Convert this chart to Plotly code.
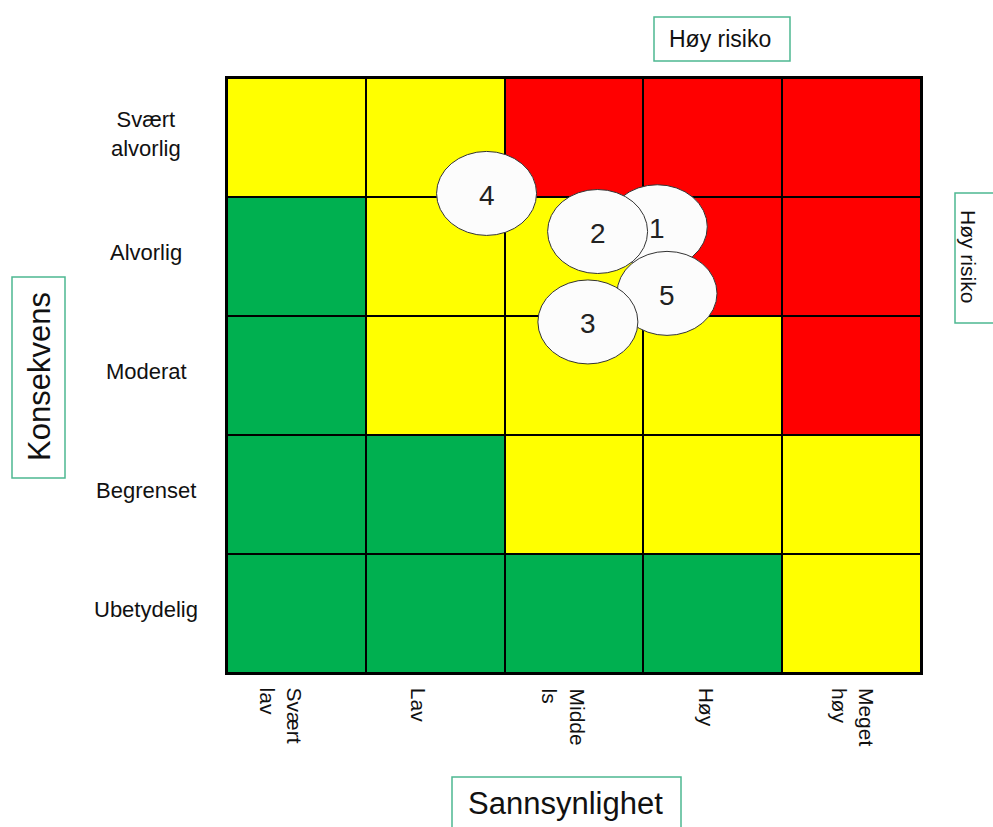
import plotly.graph_objects as go

# ---- data ----
prob_labels = ["Svært<br>lav", "Lav", "Midde<br>ls", "Høy", "Meget<br>høy"]
cons_labels = ["Ubetydelig", "Begrenset", "Moderat", "Alvorlig", "Svært<br>alvorlig"]
# risk level per cell (rows bottom->top: Ubetydelig..Svært alvorlig); 0=green, 1=yellow, 2=red
risk_levels = [
    [0, 0, 0, 0, 1],
    [0, 0, 1, 1, 1],
    [0, 1, 1, 1, 2],
    [0, 1, 1, 2, 2],
    [1, 1, 2, 2, 2],
]
risk_ids = ["4", "1", "2", "5", "3"]
risk_prob = [2.37, 3.60, 3.17, 3.67, 3.10]
risk_cons = [4.53, 4.25, 4.21, 3.69, 3.45]

x_title = "Sannsynlighet"
y_title = "Konsekvens"
high_risk = "Høy risiko"

# ---- styles ----
FONT = "Liberation Sans, Arial, sans-serif"
TXT = "#111111"
BOX = "#4db891"
W, H = 993, 827
ML, MR, MT, MB = 227, 72, 78, 154
PW, PH = W - ML - MR, H - MT - MB

def px(x):
    return (x - ML) / PW

def py(y):
    return (H - MB - y) / PH

n = len(prob_labels)
xs = list(range(1, n + 1))
ys = list(range(1, len(cons_labels) + 1))

fig = go.Figure()
fig.add_trace(go.Heatmap(
    x=xs, y=ys, z=risk_levels,
    colorscale=[[0, "#00B050"], [0.3333, "#00B050"], [0.3333, "#FFFF00"],
                [0.6667, "#FFFF00"], [0.6667, "#FF0000"], [1, "#FF0000"]],
    zmin=0, zmax=2, showscale=False, xgap=2, ygap=2, hoverinfo="skip",
))

shapes = []
# risk ellipses (sized in pixels, positioned by data)
for rid, xv, yv in zip(risk_ids, risk_prob, risk_cons):
    shapes.append(dict(
        type="circle", xref="x", yref="y", xsizemode="pixel", ysizemode="pixel",
        xanchor=xv, yanchor=yv, x0=-50, x1=50, y0=-42, y1=42,
        fillcolor="#fcfcfc", line=dict(color="#333333", width=1), layer="above",
    ))

# label boxes
def box(x0, y0, x1, y1):
    return dict(type="rect", xref="paper", yref="paper",
                x0=px(x0), x1=px(x1), y0=py(y1), y1=py(y0),
                line=dict(color=BOX, width=1.5), fillcolor="rgba(0,0,0,0)")

shapes += [
    box(654, 17, 790, 61),
    box(955, 193, 1010, 323),
    box(12, 277, 65, 478),
    box(452, 777, 681, 850),
]
fig.update_layout(shapes=shapes)

ann = []
for rid, xv, yv in zip(risk_ids, risk_prob, risk_cons):
    ann.append(dict(x=xv, y=yv, xref="x", yref="y", text=rid, showarrow=False,
                    xanchor="center", yanchor="middle",
                    font=dict(family=FONT, size=28, color="#222222"), yshift=-2))

# y category labels
for yv, lab in zip(ys, cons_labels):
    ann.append(dict(x=0, y=yv, xref="paper", yref="y", text=lab, showarrow=False,
                    xanchor="center", yanchor="middle", align="center", xshift=-81, yshift=4,
                    font=dict(family=FONT, size=22, color=TXT)))

# x category labels (rotated)
x_shifts = [-15, -16, -10, -6, 2]
for xv, lab, sh in zip(xs, prob_labels, x_shifts):
    ann.append(dict(x=xv, y=0, xref="x", yref="paper", text=lab, showarrow=False,
                    textangle=90, xanchor="center", yanchor="top", yshift=-13,
                    xshift=sh, align="left",
                    font=dict(family=FONT, size=21, color=TXT)))

ann += [
    dict(x=px(720), y=py(39), xref="paper", yref="paper", text=high_risk,
         xanchor="center", yanchor="middle",
         showarrow=False, font=dict(family=FONT, size=23, color=TXT)),
    dict(x=px(969), y=py(256), xref="paper", yref="paper", text=high_risk,
         xanchor="center", yanchor="middle",
         showarrow=False, textangle=90, font=dict(family=FONT, size=21, color=TXT)),
    dict(x=px(39), y=py(377), xref="paper", yref="paper", text=y_title,
         xanchor="center", yanchor="middle",
         showarrow=False, textangle=-90, font=dict(family=FONT, size=31, color=TXT)),
    dict(x=px(565), y=py(803), xref="paper", yref="paper", text=x_title,
         xanchor="center", yanchor="middle",
         showarrow=False, font=dict(family=FONT, size=31, color=TXT)),
]

fig.update_layout(
    annotations=ann,
    width=W, height=H,
    margin=dict(l=ML, r=MR, t=MT, b=MB, pad=0),
    paper_bgcolor="white", plot_bgcolor="black",
    xaxis=dict(range=[0.5, n + 0.5], showticklabels=False, showgrid=False, zeroline=False,
               showline=True, linecolor="black", linewidth=1.5, mirror=True, ticks=""),
    yaxis=dict(range=[0.5, len(cons_labels) + 0.5], showticklabels=False, showgrid=False,
               zeroline=False, showline=True, linecolor="black", linewidth=1.5, mirror=True, ticks=""),
    showlegend=False,
)

fig.write_html("out.html", config={"displayModeBar": False},
               post_script="document.body.style.margin='0';")
